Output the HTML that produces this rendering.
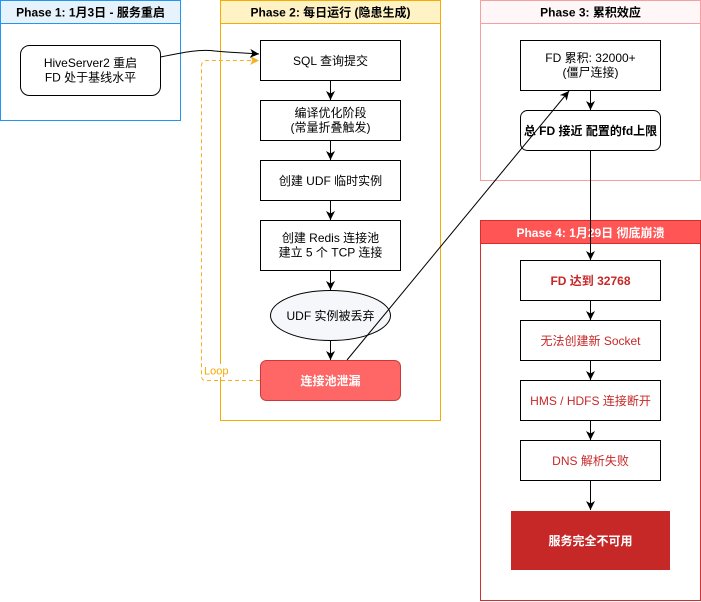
<!DOCTYPE html>
<html><head><meta charset="utf-8"><style>
html,body{margin:0;padding:0;background:#fff;}
svg{display:block;}
text{font-family:"Liberation Sans","Noto Sans CJK SC",sans-serif;font-size:12px;}
</style></head><body>
<svg width="701" height="602" viewBox="0 0 701 602" xmlns="http://www.w3.org/2000/svg">
<defs>
<marker id="ab" markerWidth="12" markerHeight="12" refX="9" refY="5" orient="auto" markerUnits="userSpaceOnUse"><path d="M0,0.5 L9,5 L0,9.5 L2.5,5 Z" fill="#000"/></marker>
<marker id="ao" markerWidth="12" markerHeight="12" refX="9" refY="5" orient="auto" markerUnits="userSpaceOnUse"><path d="M0,0.5 L9,5 L0,9.5 L2.5,5 Z" fill="#f5b020"/></marker>
</defs>
<!-- Phase 1 -->
<rect x="0.5" y="0.5" width="180" height="120" fill="#fff" stroke="#2196f3"/>
<rect x="0.5" y="0.5" width="180" height="23" fill="#e6f3fd" stroke="#2196f3"/>
<text x="90.5" y="16.5" text-anchor="middle" font-weight="bold">Phase 1: 1月3日 - 服务重启</text>
<rect x="20.5" y="45.5" width="140" height="50" rx="9" fill="#fff" stroke="#000"/>
<text x="90.5" y="67" text-anchor="middle">HiveServer2 重启</text>
<text x="90.5" y="81.5" text-anchor="middle">FD 处于基线水平</text>
<!-- Phase 2 -->
<rect x="220.5" y="0.5" width="220" height="420" fill="#fff" stroke="#f5ab00"/>
<rect x="220.5" y="0.5" width="220" height="23" fill="#fff2c4" stroke="#f5ab00"/>
<text x="330.5" y="16.5" text-anchor="middle" font-weight="bold">Phase 2: 每日运行 (隐患生成)</text>
<rect x="260.5" y="40.5" width="140" height="40" fill="#fff" stroke="#000"/>
<text x="330.5" y="65" text-anchor="middle">SQL 查询提交</text>
<rect x="260.5" y="100.5" width="140" height="40" fill="#fff" stroke="#000"/>
<text x="330.5" y="117" text-anchor="middle">编译优化阶段</text>
<text x="330.5" y="131.5" text-anchor="middle">(常量折叠触发)</text>
<rect x="260.5" y="160.5" width="140" height="40" fill="#fff" stroke="#000"/>
<text x="330.5" y="185" text-anchor="middle">创建 UDF 临时实例</text>
<rect x="260.5" y="220.5" width="140" height="50" fill="#fff" stroke="#000"/>
<text x="330.5" y="242" text-anchor="middle">创建 Redis 连接池</text>
<text x="330.5" y="256.5" text-anchor="middle">建立 5 个 TCP 连接</text>
<ellipse cx="330.5" cy="315.5" rx="60" ry="25" fill="#f5f7fa" stroke="#000"/>
<text x="330.5" y="320" text-anchor="middle">UDF 实例被丢弃</text>
<rect x="260.5" y="360.5" width="140" height="40" rx="6" fill="#ff6666" stroke="#c83a3a"/>
<text x="330.5" y="385" text-anchor="middle" font-weight="bold" fill="#fff">连接池泄漏</text>
<!-- Phase 2 arrows -->
<line x1="330.5" y1="80.5" x2="330.5" y2="100" stroke="#000" marker-end="url(#ab)"/>
<line x1="330.5" y1="140.5" x2="330.5" y2="160" stroke="#000" marker-end="url(#ab)"/>
<line x1="330.5" y1="200.5" x2="330.5" y2="220" stroke="#000" marker-end="url(#ab)"/>
<line x1="330.5" y1="270.5" x2="330.5" y2="290" stroke="#000" marker-end="url(#ab)"/>
<line x1="330.5" y1="340.5" x2="330.5" y2="360" stroke="#000" marker-end="url(#ab)"/>
<!-- Loop -->
<path d="M260,380.5 L206,380.5 Q201.5,380.5 201.5,376 L201.5,66 Q201.5,60.5 207,60.5 L259,60.5" fill="none" stroke="#f5b020" stroke-dasharray="4,3" marker-end="url(#ao)"/>
<rect x="203" y="364" width="26" height="13" fill="#fff"/>
<text x="204" y="374.5" fill="#f5ab00" style="font-size:11px">Loop</text>
<!-- Phase 3 -->
<rect x="480.5" y="0.5" width="220" height="180" fill="#fff" stroke="#f4a0a0"/>
<rect x="480.5" y="0.5" width="220" height="23" fill="#fff7f7" stroke="#f4a0a0"/>
<text x="590.5" y="16.5" text-anchor="middle" font-weight="bold">Phase 3: 累积效应</text>
<rect x="520.5" y="40.5" width="140" height="50" fill="#fff" stroke="#000"/>
<text x="590.5" y="62" text-anchor="middle">FD 累积: 32000+</text>
<text x="590.5" y="76.5" text-anchor="middle">(僵尸连接)</text>
<rect x="520.5" y="110.5" width="140" height="40" rx="7" fill="#fff" stroke="#000"/>
<text x="590.5" y="135" text-anchor="middle" font-weight="bold">总 FD 接近 配置的fd上限</text>
<line x1="590.5" y1="90.5" x2="590.5" y2="110" stroke="#000" marker-end="url(#ab)"/>
<!-- Phase 4 -->
<rect x="480.5" y="220.5" width="220" height="380" fill="#fff" stroke="#d32f2f"/>
<rect x="480.5" y="220.5" width="220" height="23" fill="#ff5555" stroke="#d32f2f"/>
<text x="590.5" y="237" text-anchor="middle" font-weight="bold" fill="#fff">Phase 4: 1月29日 彻底崩溃</text>
<rect x="520.5" y="260.5" width="140" height="40" fill="#fff" stroke="#000"/>
<text x="590.5" y="285" text-anchor="middle" font-weight="bold" fill="#c62828">FD 达到 32768</text>
<rect x="520.5" y="320.5" width="140" height="40" fill="#fff" stroke="#000"/>
<text x="590.5" y="345" text-anchor="middle" fill="#c62828">无法创建新 Socket</text>
<rect x="520.5" y="380.5" width="140" height="40" fill="#fff" stroke="#000"/>
<text x="590.5" y="405" text-anchor="middle" fill="#c62828">HMS / HDFS 连接断开</text>
<rect x="520.5" y="440.5" width="140" height="40" fill="#fff" stroke="#000"/>
<text x="590.5" y="465" text-anchor="middle" fill="#c62828">DNS 解析失败</text>
<rect x="511" y="511" width="159" height="59" fill="#c62828"/>
<text x="590.5" y="545" text-anchor="middle" font-weight="bold" fill="#fff">服务完全不可用</text>
<line x1="590.5" y1="300.5" x2="590.5" y2="320" stroke="#000" marker-end="url(#ab)"/>
<line x1="590.5" y1="360.5" x2="590.5" y2="380" stroke="#000" marker-end="url(#ab)"/>
<line x1="590.5" y1="420.5" x2="590.5" y2="440" stroke="#000" marker-end="url(#ab)"/>
<line x1="590.5" y1="480.5" x2="590.5" y2="510" stroke="#000" marker-end="url(#ab)"/>
<!-- cross edges -->
<line x1="590.5" y1="150.5" x2="590.5" y2="260" stroke="#000" marker-end="url(#ab)"/>
<path d="M160.5,57 C185,52 200,49 215,51 C230,52.5 245,53 259,54" fill="none" stroke="#000" marker-end="url(#ab)"/>
<line x1="347" y1="360" x2="569" y2="91" stroke="#000" marker-end="url(#ab)"/>
</svg>
</body></html>
